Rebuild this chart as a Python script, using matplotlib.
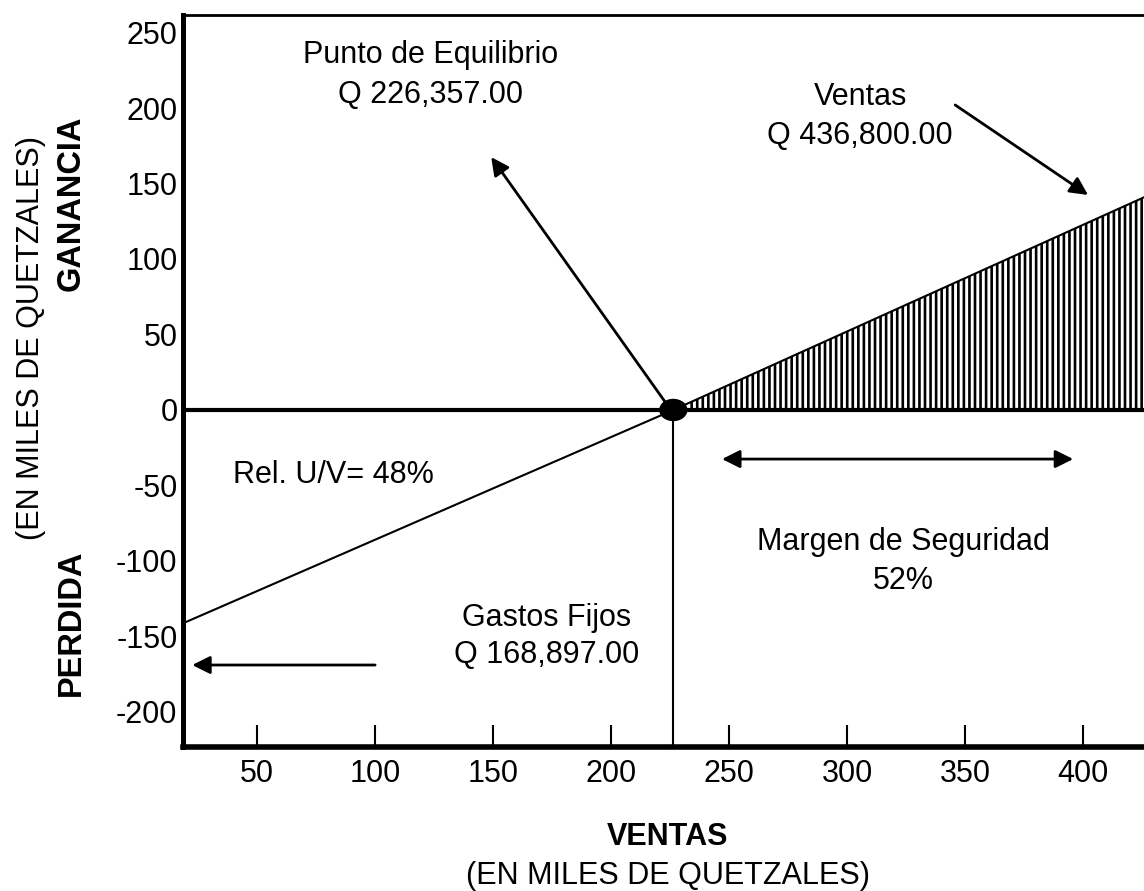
import matplotlib
matplotlib.use('Agg')
import matplotlib.pyplot as plt
import numpy as np
from matplotlib.patches import Ellipse

plt.rcParams['font.family'] = ['Liberation Sans', 'DejaVu Sans']
plt.rcParams['hatch.linewidth'] = 1.9
plt.rcParams['axes.unicode_minus'] = False

# datos (miles de quetzales)
ventas = [19, 226.357, 426]
resultado = [-141, 0, 141]
punto_equilibrio = 226.357
inicio_margen = 233
x_ticks = [50, 100, 150, 200, 250, 300, 350, 400]
y_ticks = [-200, -150, -100, -50, 0, 50, 100, 150, 200, 250]

fig = plt.figure(figsize=(11.44, 8.91), dpi=100)
ax = fig.add_axes([183 / 1144, 144 / 891, 961 / 1144, 732 / 891])
ax.set_xlim(18.6, 18.6 + 961 / 2.36)
ax.set_ylim(-223.2, 261.6)

# linea de resultados
ax.plot(ventas, resultado, color='black', lw=1.5, zorder=3)
ax.axhline(0, color='black', lw=3, zorder=3)
ax.vlines(punto_equilibrio, -223.2, 0, color='black', lw=1.5, zorder=3)

# zona de ganancia (rayado vertical)
zx = np.array([inicio_margen, ventas[-1]])
zy = np.interp(zx, ventas, resultado)
ax.fill_between(zx, 0, zy, facecolor='none', edgecolor='black',
                hatch='|||', linewidth=0, zorder=2)

ax.add_patch(Ellipse((punto_equilibrio, 0), 11.4, 13.9, color='black', zorder=5))

flecha = dict(arrowstyle='-|>', color='black', lw=2, mutation_scale=27,
              shrinkA=0, shrinkB=0)
ax.annotate('', xy=(149.2, 167.5), xytext=(222.9, 5.3), arrowprops=flecha)
ax.annotate('', xy=(402.1, 142.4), xytext=(345.8, 202), arrowprops=flecha)
ax.annotate('', xy=(22.5, -168.9), xytext=(100, -168.9), arrowprops=flecha)
doble = dict(flecha, arrowstyle='<|-|>')
ax.annotate('', xy=(395.8, -32.5), xytext=(247, -32.5), arrowprops=doble)

fs = 22
ax.text(123.3, 229.8, 'Punto de Equilibrio', ha='center', va='baseline', fontsize=fs)
ax.text(123.3, 203.3, 'Q 226,357.00', ha='center', va='baseline', fontsize=fs)
ax.text(305.5, 202, 'Ventas', ha='center', va='baseline', fontsize=fs)
ax.text(305.5, 176.2, 'Q 436,800.00', ha='center', va='baseline', fontsize=fs)
ax.text(39.8, -48.3, 'Rel. U/V= 48%', ha='left', va='baseline', fontsize=fs)
ax.text(323.7, -92.7, 'Margen de Seguridad', ha='center', va='baseline', fontsize=fs)
ax.text(323.7, -118.5, '52%', ha='center', va='baseline', fontsize=fs)
ax.text(172.5, -143, 'Gastos Fijos', ha='center', va='baseline', fontsize=fs)
ax.text(172.5, -167.5, 'Q 168,897.00', ha='center', va='baseline', fontsize=fs)

# ejes
ax.spines['right'].set_visible(False)
ax.spines['left'].set_linewidth(3.6)
ax.spines['bottom'].set_linewidth(4)
ax.spines['top'].set_linewidth(2)
ax.set_xticks(x_ticks)
ax.set_yticks(y_ticks)
ax.tick_params(axis='x', direction='in', length=16, width=1.5, pad=9,
               labelsize=fs)
ax.tick_params(axis='y', length=0, pad=4, labelsize=fs)

fig.text(668 / 1144, (891 - 845) / 891, 'VENTAS', ha='center', va='baseline',
         fontsize=fs, fontweight='bold')
fig.text(668 / 1144, (891 - 884) / 891, '(EN MILES DE QUETZALES)', ha='center',
         va='baseline', fontsize=fs)
fig.text(39 / 1144, (891 - 338) / 891, '(EN MILES DE QUETZALES)', rotation=90,
         rotation_mode='anchor', ha='center', va='baseline', fontsize=fs)
fig.text(80 / 1144, (891 - 203) / 891, 'GANANCIA', rotation=90,
         rotation_mode='anchor', ha='center', va='baseline', fontsize=23.5,
         fontweight='bold')
fig.text(80 / 1144, (891 - 623) / 891, 'PERDIDA', rotation=90,
         rotation_mode='anchor', ha='center', va='baseline', fontsize=23.5,
         fontweight='bold')

fig.savefig('out.png', dpi=100)
